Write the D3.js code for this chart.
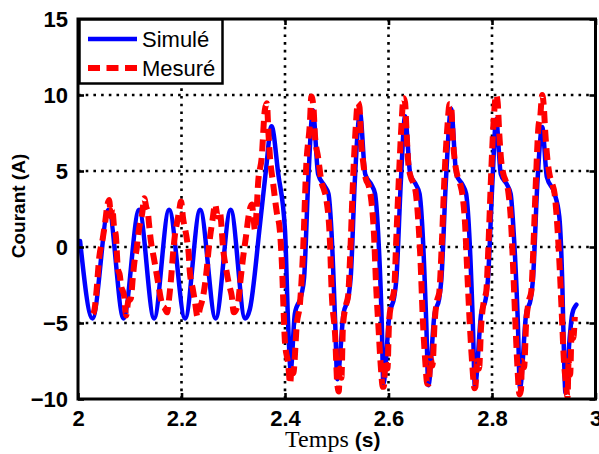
<!DOCTYPE html>
<html>
<head>
<meta charset="utf-8">
<script src="https://cdn.jsdelivr.net/npm/d3@7"></script>
<style>
  html, body { margin: 0; padding: 0; background: #fff; }
  svg { display: block; }
</style>
</head>
<body>
<svg id="chart" width="599" height="454"></svg>
<script>
// ---------------- data ----------------
const xTicks = [2, 2.2, 2.4, 2.6, 2.8, 3];
const yTicks = [-10, -5, 0, 5, 10, 15];
const seriesNames = ["Simulé", "Mesuré"];
const xLabelText = "Temps";
const xLabelUnit = "(s)";
const yLabelText = "Courant (A)";

const simTime = [2.004, 2.028, 2.059, 2.088, 2.118, 2.147, 2.176, 2.207, 2.236, 2.266, 2.295, 2.323, 2.332, 2.352, 2.363, 2.374, 2.387, 2.400, 2.406, 2.411,
  2.419, 2.432, 2.437, 2.445, 2.454, 2.464, 2.477, 2.484, 2.490, 2.497, 2.501,
  2.513, 2.523, 2.527, 2.535, 2.545, 2.555, 2.567, 2.574, 2.580, 2.587, 2.590,
  2.602, 2.611, 2.615, 2.624, 2.632, 2.642, 2.653, 2.660, 2.666, 2.673, 2.677,
  2.689, 2.698, 2.702, 2.711, 2.721, 2.731, 2.743, 2.750, 2.756, 2.763, 2.767,
  2.779, 2.788, 2.792, 2.801, 2.808, 2.817, 2.829, 2.836, 2.842, 2.850, 2.854,
  2.866, 2.875, 2.879, 2.888, 2.897, 2.906, 2.920, 2.930, 2.936, 2.939, 2.942,
  2.950, 2.955, 2.963];
const simCurrent = [0.4, -4.7, 2.45, -4.7, 2.45, -4.7, 2.45, -4.7, 2.45, -4.7, 2.45, -4.7, -4.1, 1.6, 5.0, 7.95, 4.8, 1.1, -5.0, -8.1,
  -4.4, -3.1, -2.0, 4.4, 9.0, 4.8, 4.0, 3.5, 0.9, -5.0, -8.7,
  -4.4, -3.2, -2.0, 4.4, 8.8, 4.8, 4.1, 3.5, 0.9, -5.0, -9.0,
  -4.4, -3.3, -2.2, 4.4, 8.6, 4.8, 4.1, 3.5, 0.9, -5.0, -9.1,
  -4.4, -3.4, -2.2, 4.4, 9.1, 4.8, 4.1, 3.5, 0.9, -5.0, -9.2,
  -4.4, -3.4, -2.2, 4.4, 8.4, 4.8, 4.1, 3.5, 0.9, -5.0, -9.3,
  -4.4, -3.4, -2.2, 4.4, 7.9, 4.6, 3.6, 2.0, -2.6, -7.0, -9.6,
  -6.0, -4.4, -3.8];

const mesTime = [2.029, 2.032, 2.035, 2.041, 2.048, 2.052, 2.057, 2.060, 2.064, 2.066, 2.070, 2.073, 2.077, 2.081, 2.083, 2.089, 2.093, 2.097,
  2.102, 2.106, 2.109, 2.113, 2.118, 2.124, 2.128, 2.132, 2.135, 2.137, 2.141, 2.147, 2.151, 2.156, 2.160, 2.164, 2.167, 2.172, 2.176,
  2.180, 2.183, 2.187, 2.193, 2.196, 2.199, 2.203, 2.210, 2.214, 2.216, 2.222, 2.226, 2.231, 2.236, 2.242, 2.249, 2.252, 2.255, 2.260,
  2.265, 2.270, 2.274, 2.281, 2.287, 2.292, 2.297, 2.301, 2.307, 2.310, 2.313, 2.319, 2.325, 2.329, 2.336, 2.339, 2.342, 2.345, 2.348,
  2.355, 2.361, 2.365, 2.368, 2.371, 2.377, 2.384, 2.390, 2.394, 2.397, 2.400, 2.406, 2.410, 2.413, 2.416, 2.423, 2.429, 2.435, 2.441,
  2.448, 2.451, 2.455, 2.458, 2.464, 2.471, 2.475, 2.480, 2.487, 2.490, 2.497, 2.501, 2.504,
  2.506, 2.509, 2.512, 2.518, 2.522, 2.526, 2.531, 2.536, 2.541, 2.544, 2.547, 2.551, 2.556, 2.562, 2.567, 2.572, 2.576, 2.581, 2.585, 2.589,
  2.591, 2.594, 2.598, 2.601, 2.606, 2.611, 2.615, 2.620, 2.625, 2.629, 2.632, 2.635, 2.638, 2.643, 2.648, 2.653, 2.658, 2.662, 2.666, 2.671, 2.675,
  2.678, 2.681, 2.685, 2.689, 2.694, 2.698, 2.703, 2.708, 2.714, 2.718, 2.721, 2.724, 2.728, 2.733, 2.738, 2.743, 2.748, 2.752, 2.757, 2.762, 2.766,
  2.768, 2.771, 2.775, 2.779, 2.784, 2.789, 2.793, 2.798, 2.803, 2.808, 2.811, 2.814, 2.818, 2.822, 2.827, 2.832, 2.837, 2.841, 2.845, 2.849, 2.853,
  2.856, 2.858, 2.862, 2.866, 2.871, 2.876, 2.880, 2.885, 2.890, 2.893, 2.897, 2.900, 2.903, 2.907, 2.911, 2.916, 2.921, 2.926, 2.931, 2.935, 2.939, 2.943,
  2.946, 2.948, 2.951, 2.954, 2.957, 2.960];
const mesCurrent = [-4.4, -4.1, -3.2, -0.7, 0.6, 1.5, 2.8, 3.1, 2.0, 2.6, 1.2, 0.8, -1.4, -1.9, -2.5, -3.2, -4.5, -3.6,
  -3.4, -2.0, -1.0, -0.2, 1.2, 2.2, 3.2, 2.6, 2.3, 1.6, 0.35, -0.8, -1.6, -2.6, -3.4, -3.9, -4.0, -4.3, -3.4,
  -2.0, -0.7, 0.7, 1.9, 2.5, 3.0, 1.9, 0.6, -0.5, -1.6, -2.8, -3.6, -4.6, -4.0, -3.2, -1.4, -0.3, 0.6, 1.8,
  2.8, 2.0, 2.3, -0.3, -1.6, -2.5, -3.2, -4.3, -4.0, -3.5, -2.5, -0.7, 0.8, 1.9, 2.8, 2.0, 1.1, 2.3, 4.2,
  5.9, 9.0, 9.45, 7.5, 5.9, 4.2, 2.3, 1.1, -1.1, -3.9, -6.3, -7.65, -9.0, -7.8, -8.3, -5.0, -3.7, -0.2, 5.3,
  8.1, 9.9, 9.2, 7.3, 5.9, 4.2, 3.8, 3.1, 0.25, -2.8, -5.9, -9.0, -9.5,
  -8.0, -8.6, -5.2, -3.8, -3.2, -0.5, 4.0, 7.5, 9.5, 9.2, 7.0, 5.6, 4.5, 4.0, 3.0, 0.8, -2.5, -5.5, -7.8, -9.2,
  -9.2, -7.5, -8.0, -5.0, -3.6, -2.8, 0.5, 4.5, 8.0, 9.8, 9.5, 7.5, 5.6, 4.6, 4.2, 3.5, 1.5, -1.0, -4.5, -7.5, -9.0,
  -9.0, -7.3, -7.8, -5.0, -3.5, -3.0, 0.2, 4.5, 8.0, 9.4, 9.3, 7.3, 5.7, 4.7, 4.2, 3.4, 1.5, -1.5, -5.0, -7.8, -9.3,
  -9.2, -7.5, -8.0, -5.2, -3.6, -2.9, 0.0, 4.5, 8.2, 10.0, 9.5, 7.5, 5.6, 4.8, 4.3, 3.5, 1.5, -1.5, -4.8, -7.8, -9.7,
  -9.4, -7.5, -7.9, -5.0, -3.6, -2.9, 0.0, 4.5, 8.0, 8.5, 10.0, 9.3, 7.5, 5.8, 4.8, 4.2, 3.5, 1.5, -1.5, -4.5, -7.5, -9.0,
  -9.9, -7.5, -8.4, -5.5, -6.0, -4.6];

// ---------------- layout ----------------
const svg = d3.select("#chart");
const plot = { left: 78, right: 595.5, top: 19, bottom: 399 };

const x = d3.scaleLinear().domain([2, 3]).range([plot.left, plot.right]);
const y = d3.scaleLinear().domain([-10, 15]).range([plot.bottom, plot.top]);

const sansFont = "'Liberation Sans', Arial, Helvetica, sans-serif";
const serifFont = "'Liberation Serif', 'Times New Roman', Times, serif";

svg.append("rect").attr("width", 599).attr("height", 454).attr("fill", "#fff");

svg.append("defs").append("clipPath").attr("id", "clip")
  .append("rect")
  .attr("x", plot.left).attr("y", plot.top)
  .attr("width", plot.right - plot.left).attr("height", plot.bottom - plot.top);

// grid
const grid = svg.append("g");
grid.selectAll("line.gx").data(xTicks.filter(d => d > 2 && d < 3)).join("line")
  .attr("x1", d => x(d)).attr("x2", d => x(d))
  .attr("y1", plot.top).attr("y2", plot.bottom)
  .attr("stroke", "#000").attr("stroke-width", 2.6).attr("stroke-dasharray", "2.6,5.1");
grid.selectAll("line.gy").data(yTicks.filter(d => d > -10 && d < 15)).join("line")
  .attr("y1", d => y(d)).attr("y2", d => y(d))
  .attr("x1", plot.left).attr("x2", plot.right)
  .attr("stroke", "#000").attr("stroke-width", 2.6).attr("stroke-dasharray", "2.6,5.1");

// series
const simData = simTime.map((t, i) => [t, simCurrent[i]]);
const mesData = mesTime.map((t, i) => [t, mesCurrent[i]]);
const line = d3.line().x(d => x(d[0])).y(d => y(d[1])).curve(d3.curveMonotoneX);

const series = svg.append("g").attr("clip-path", "url(#clip)");
series.append("path").datum(simData)
  .attr("d", line).attr("fill", "none")
  .attr("stroke", "#0000ff").attr("stroke-width", 4.5)
  .attr("stroke-linejoin", "round").attr("stroke-linecap", "round");
series.append("path").datum(mesData)
  .attr("d", line).attr("fill", "none")
  .attr("stroke", "#ff0000").attr("stroke-width", 6)
  .attr("stroke-dasharray", "12,6.5").attr("stroke-linecap", "butt")
  .attr("stroke-linejoin", "miter");

// axes (ticks inside)
const tickLen = 6;
const axB = svg.append("g").attr("transform", `translate(0,${plot.bottom})`)
  .call(d3.axisBottom(x).tickValues(xTicks).tickSize(-tickLen).tickPadding(11).tickFormat(d3.format("~g")));
const axL = svg.append("g").attr("transform", `translate(${plot.left},0)`)
  .call(d3.axisLeft(y).tickValues(yTicks).tickSize(-tickLen).tickPadding(10).tickFormat(d3.format("~g")));
const axT = svg.append("g").attr("transform", `translate(0,${plot.top})`)
  .call(d3.axisTop(x).tickValues(xTicks).tickSize(-tickLen).tickFormat(""));
const axR = svg.append("g").attr("transform", `translate(${plot.right},0)`)
  .call(d3.axisRight(y).tickValues(yTicks).tickSize(-tickLen).tickFormat(""));

[axB, axL, axT, axR].forEach(a => {
  a.select(".domain").remove();
  a.selectAll(".tick line").attr("stroke", "#000").attr("stroke-width", 2.6);
  a.selectAll(".tick text")
    .attr("fill", "#000")
    .attr("font-family", sansFont)
    .attr("font-weight", "bold")
    .attr("font-size", 22);
});
axB.selectAll(".tick text").attr("dy", "0.71em");
axL.selectAll(".tick text").attr("dy", "0.36em");

// frame
svg.append("rect")
  .attr("x", plot.left).attr("y", plot.top)
  .attr("width", plot.right - plot.left).attr("height", plot.bottom - plot.top)
  .attr("fill", "none").attr("stroke", "#000").attr("stroke-width", 3);

// axis labels
const xl = svg.append("text")
  .attr("x", (plot.left + plot.right) / 2 - 4).attr("y", 447)
  .attr("text-anchor", "middle").attr("fill", "#000");
xl.append("tspan").attr("font-family", serifFont).attr("font-size", 24).text(xLabelText + " ");
xl.append("tspan").attr("font-family", sansFont).attr("font-weight", "bold").attr("font-size", 21).text(xLabelUnit);

svg.append("text")
  .attr("transform", `translate(25,${(plot.top + plot.bottom) / 2 - 3}) rotate(-90)`)
  .attr("text-anchor", "middle")
  .attr("font-family", sansFont).attr("font-weight", "bold").attr("font-size", 19)
  .attr("fill", "#000")
  .text(yLabelText);

// legend
const lg = svg.append("g");
lg.append("rect").attr("x", 79.5).attr("y", 19.5).attr("width", 143).attr("height", 64)
  .attr("fill", "#fff").attr("stroke", "#000").attr("stroke-width", 2.5);
const legendItems = [
  { name: seriesNames[0], color: "#0000ff", width: 4.5, dash: null, yy: 39 },
  { name: seriesNames[1], color: "#ff0000", width: 6, dash: "12,6.5", yy: 68 }
];
legendItems.forEach(it => {
  lg.append("line").attr("x1", 88).attr("x2", 137).attr("y1", it.yy).attr("y2", it.yy)
    .attr("stroke", it.color).attr("stroke-width", it.width)
    .attr("stroke-dasharray", it.dash);
  lg.append("text").attr("x", 142).attr("y", it.yy).attr("dy", "0.36em")
    .attr("font-family", sansFont).attr("font-size", 22).attr("fill", "#000")
    .text(it.name);
});
</script>
</body>
</html>
